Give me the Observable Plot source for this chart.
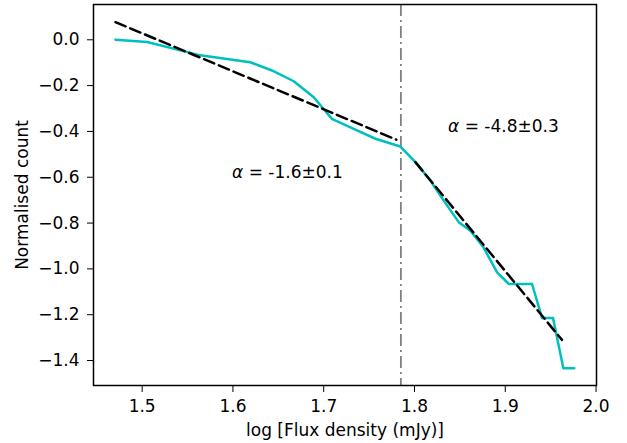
<!DOCTYPE html>
<html>
<head>
<meta charset="utf-8">
<script src="https://cdn.jsdelivr.net/npm/d3@7"></script>
<script src="https://cdn.jsdelivr.net/npm/@observablehq/plot@0.6"></script>
<style>
  html, body { margin: 0; padding: 0; background: #fff; }
  svg { font-family: "DejaVu Sans", sans-serif; }
  svg text { font-size: 17px; }
</style>
</head>
<body>
<div id="chart"></div>
<script>
// Cyan curve: log flux density vs normalised count
const fluxX = [1.4706, 1.5055, 1.564, 1.619, 1.643, 1.667, 1.689, 1.709, 1.733, 1.757, 1.7845,
               1.801, 1.8175, 1.832, 1.8487, 1.8616, 1.876, 1.891, 1.904, 1.9295, 1.9405, 1.9526, 1.964, 1.976];
const countY = [0.0, -0.010, -0.068, -0.098, -0.134, -0.181, -0.251, -0.345, -0.389, -0.432, -0.466,
                -0.534, -0.614, -0.701, -0.796, -0.833, -0.906, -1.015, -1.066, -1.066, -1.214, -1.214, -1.434, -1.434];

// Fit lines (endpoints)
const fit1X = [1.4706, 1.780];
const fit1Y = [0.077, -0.436];
const fit2X = [1.801, 1.9625];
const fit2Y = [-0.534, -1.310];

// Break point
const breakX = [1.785];

// Annotations
const annoText = ["α = -1.6±0.1", "α = -4.8±0.3"];
const annoX = [1.660, 1.898];
const annoY = [-0.578, -0.380];

const xTicks = [1.5, 1.6, 1.7, 1.8, 1.9, 2.0];
const yTicks = [0.0, -0.2, -0.4, -0.6, -0.8, -1.0, -1.2, -1.4];

const curve = fluxX.map((x, i) => ({x, y: countY[i]}));
const fit1 = fit1X.map((x, i) => ({x, y: fit1Y[i]}));
const fit2 = fit2X.map((x, i) => ({x, y: fit2Y[i]}));
const annos = annoText.map((t, i) => ({t, x: annoX[i], y: annoY[i]}));

const fmt = d3.format(".1f");

const chart = Plot.plot({
  width: 627,
  height: 443,
  marginLeft: 93,
  marginRight: 31,
  marginTop: 4,
  marginBottom: 58,
  style: {fontFamily: "DejaVu Sans, sans-serif", fontSize: "17px", background: "#fff", color: "#000"},
  x: {domain: [1.4464, 2.0005]},
  y: {domain: [-1.509, 0.154]},
  marks: [
    Plot.ruleX(breakX, {stroke: "#808080", strokeWidth: 1.8, strokeDasharray: "12,4,2,4"}),
    Plot.line(curve, {x: "x", y: "y", stroke: "#00bfbf", strokeWidth: 2.5}),
    Plot.line(fit1, {x: "x", y: "y", stroke: "#000", strokeWidth: 2.5, strokeDasharray: "11,5"}),
    Plot.line(fit2, {x: "x", y: "y", stroke: "#000", strokeWidth: 2.5, strokeDasharray: "11,5"}),
    Plot.text(annos, {x: "x", y: "y", text: "t", fill: "#000"}),
    Plot.axisX({ticks: xTicks, tickFormat: fmt, tickSize: 7, tickPadding: 7,
                label: "log [Flux density (mJy)]", labelAnchor: "center", labelOffset: 50, labelArrow: "none"}),
    Plot.axisY({ticks: yTicks, tickFormat: fmt, tickSize: 6, tickPadding: 8,
                label: "Normalised count", labelAnchor: "center", labelOffset: 78, labelArrow: "none"}),
    Plot.frame({stroke: "#000", strokeWidth: 1.5})
  ]
});
document.getElementById("chart").appendChild(chart);

// Render the α symbol in italics, as in the mathtext original
chart.querySelectorAll("text").forEach(t => {
  if (t.textContent.startsWith("α")) {
    const rest = t.textContent.slice(1);
    t.textContent = "";
    const a = document.createElementNS("http://www.w3.org/2000/svg", "tspan");
    a.setAttribute("font-style", "italic");
    a.textContent = "α";
    const b = document.createElementNS("http://www.w3.org/2000/svg", "tspan");
    b.textContent = rest;
    t.appendChild(a);
    t.appendChild(b);
  }
});
</script>
</body>
</html>
